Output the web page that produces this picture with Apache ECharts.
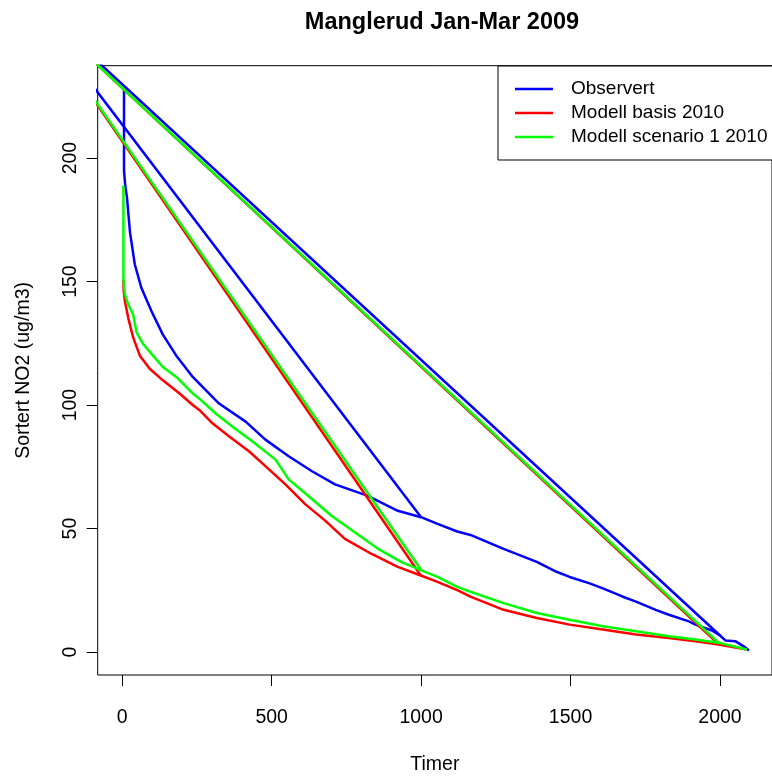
<!DOCTYPE html>
<html>
<head>
<meta charset="utf-8">
<script src="https://cdn.jsdelivr.net/npm/echarts@6/dist/echarts.min.js"></script>
<style>
  html, body { margin: 0; padding: 0; background: #fff; }
  #chart { width: 772px; height: 780px; }
</style>
</head>
<body>
<div id="chart"></div>
<script>
const FONT = 'Liberation Sans, Arial, sans-serif'

// sorted duration curves [timer, NO2]
const observert = [
  [6, 228], [6, 195], [10, 189], [16, 184], [26, 170], [42, 157], [64, 147.5],
  [98, 138], [136, 128.5], [181, 120], [236, 111.4], [324, 100.6], [413, 93.3],
  [479, 86], [557, 79.3], [635, 73.2], [712, 67.9], [822, 63.2], [922, 57.2],
  [1000, 54.6], [1055, 51.9], [1121, 48.8], [1165, 47.4], [1276, 41.8],
  [1387, 36.5], [1453, 32.5], [1497, 30.4], [1564, 27.8], [1608, 25.8],
  [1675, 22.4], [1719, 20.4], [1785, 17.1], [1829, 15.1], [1896, 12.4],
  [1918, 11.1], [1973, 8.7], [2001, 6.6], [2018, 4.7], [2051, 4.4],
  [2078, 2.4], [2097, 0.6],
]
const basis = [
  [4, 150.8], [5, 146], [9, 142], [20, 135.4], [36.5, 127.4], [59, 120],
  [92, 114.7], [136, 110], [192, 104.7], [236, 100], [258, 98], [302, 92.6],
  [358, 87.3], [424, 81.3], [479, 75.3], [546, 67.9], [612, 59.9], [679, 53.2],
  [745, 45.8], [833, 39.8], [922, 34.5], [999, 31.0], [1055, 28.4],
  [1121, 25.1], [1165, 22.4], [1276, 17.1], [1387, 13.8], [1497, 11.1],
  [1608, 9.1], [1719, 7.1], [1829, 5.7], [1918, 4.4], [1995, 3.0], [2090, 1.0],
]
const scenario1 = [
  [4, 188.9], [4, 151.5], [9, 144.8], [20, 140.8], [36.5, 136.7], [48, 129.4],
  [70, 124.7], [103, 120], [136, 115.4], [181, 111.4], [236, 104.7],
  [258, 102.6], [313, 96.6], [368, 91.3], [435, 85.3], [513, 77.9], [557, 69.9],
  [623, 63.2], [700, 55.2], [778, 48.5], [856, 41.8], [933, 36.5], [1001, 33.1],
  [1055, 30.4], [1121, 26.4], [1165, 24.4], [1276, 19.8], [1387, 15.8],
  [1497, 13.1], [1608, 10.4], [1719, 8.4], [1829, 6.4], [1918, 5.1],
  [1995, 3.8], [2090, 1.0],
]
// the stray segments that run out through the left edge of the plot
const observertWrap = [[1000, 54.6], [-345, 268.4], [2001, 6.6]]
const basisWrap = [[999, 31.0], [-340, 266.7], [1995, 3.2]]
const scenario1Wrap = [[1001, 33.1], [-340, 266.7], [1995, 3.8]]

const names = ['Observert', 'Modell basis 2010', 'Modell scenario 1 2010']
const xTicks = [0, 500, 1000, 1500, 2000]
const yTicks = [0, 50, 100, 150, 200]

const myChart = echarts.init(document.getElementById('chart'))

const lineSeries = (name, data, color) => ({
  name: name,
  type: 'line',
  data: data,
  symbol: 'none',
  clip: true,
  silent: true,
  animation: false,
  lineStyle: { color: color, width: 2.5 },
  itemStyle: { color: color },
})

const option = {
  backgroundColor: '#fff',
  animation: false,
  title: {
    text: 'Manglerud Jan-Mar 2009',
    left: 437,
    textAlign: 'center',
    top: 6,
    textStyle: { fontFamily: FONT, fontSize: 23.5, fontWeight: 'bold', color: '#000' },
  },
  legend: {
    data: names,
    orient: 'vertical',
    left: 498,
    top: 66,
    padding: [13, 40, 13, 17],
    backgroundColor: '#fff',
    borderColor: '#000',
    borderWidth: 1,
    borderRadius: 0,
    icon: 'rect',
    itemWidth: 38,
    itemHeight: 2.5,
    itemGap: 4,
    selectedMode: false,
    textStyle: { fontFamily: FONT, fontSize: 19, color: '#000', lineHeight: 20, padding: [0, 0, 0, 13] },
  },
  grid: {
    left: 97.7,
    top: 65.7,
    width: 679.3,
    height: 615,
    show: true,
    borderColor: '#000',
    borderWidth: 1,
    backgroundColor: 'transparent',
    containLabel: false,
  },
  xAxis: {
    type: 'value',
    min: -82,
    max: 2174,
    name: 'Timer',
    nameLocation: 'middle',
    nameGap: 80,
    nameTextStyle: { fontFamily: FONT, fontSize: 19.5, color: '#000' },
    axisLine: { show: false, onZero: false },
    splitLine: { show: false },
    axisTick: { show: true, customValues: xTicks, length: 11, lineStyle: { color: '#000' } },
    axisLabel: {
      customValues: xTicks, margin: 33, fontFamily: FONT, fontSize: 19.5, color: '#000',
      formatter: (v) => String(v),
    },
  },
  yAxis: {
    type: 'value',
    min: -9.3,
    max: 237.4,
    name: 'Sortert NO2 (ug/m3)',
    nameLocation: 'middle',
    nameGap: 64.5,
    nameTextStyle: { fontFamily: FONT, fontSize: 19.5, color: '#000' },
    axisLine: { show: false, onZero: false },
    splitLine: { show: false },
    axisTick: { show: true, customValues: yTicks, length: 11, lineStyle: { color: '#000' } },
    axisLabel: {
      customValues: yTicks, rotate: 90, margin: 17, fontFamily: FONT, fontSize: 19.5, color: '#000',
      formatter: (v) => String(v),
    },
  },
  series: [
    lineSeries(names[0], observert, '#0000ff'),
    lineSeries(names[0], observertWrap, '#0000ff'),
    lineSeries(names[1], basis, '#ff0000'),
    lineSeries(names[1], basisWrap, '#ff0000'),
    lineSeries(names[2], scenario1, '#00ff00'),
    lineSeries(names[2], scenario1Wrap, '#00ff00'),
  ],
}

option && myChart.setOption(option)
</script>
</body>
</html>
